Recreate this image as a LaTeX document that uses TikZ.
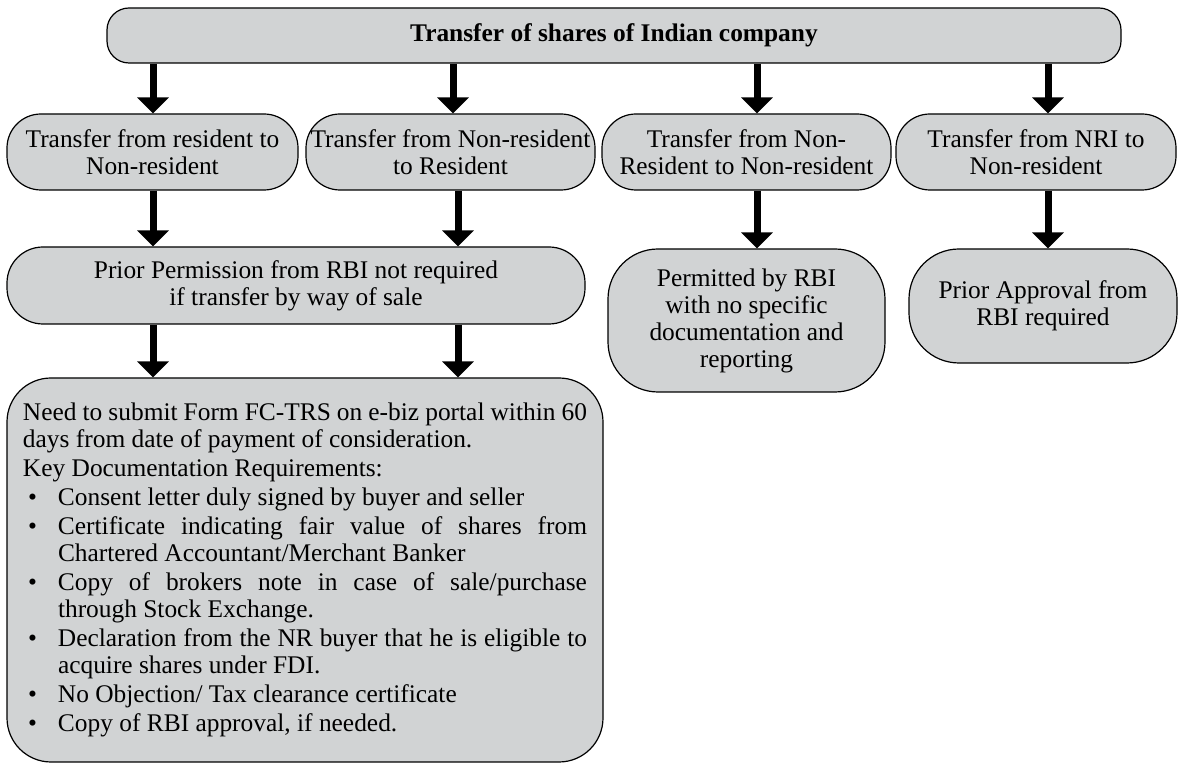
\documentclass[tikz,border=0pt]{standalone}
\usepackage{fontspec}
\setmainfont{Liberation Serif}
\usetikzlibrary{arrows.meta}
\definecolor{boxgray}{RGB}{209,211,212}
\newcommand\bitem[1]{\par\vspace{1pt}\noindent\hangindent=17.5pt\hangafter=1\makebox[17.5pt][l]{\hspace{2.5pt}\textbullet}#1}
\begin{document}
\begin{tikzpicture}[x=0.5pt,y=-0.5pt,
  box/.style={draw=black, line width=0.6pt, fill=boxgray, align=center,
    font=\fontsize{12.7}{13.5}\selectfont, inner sep=0pt},
  arr/.style={line width=3.5pt, black, -{Triangle[width=15.5pt,length=8pt]}},
]
\useasboundingbox (0,0) rectangle (1179,763);
% top
\node[box, rounded corners=11pt, minimum width=507pt, minimum height=27.5pt] (top) at (614,35.5)
  {\textbf{Transfer of shares of Indian company}};
% row 2
\node[box, rounded corners=17pt, minimum width=145.5pt, minimum height=38pt] (B1) at (152.5,152)
  {Transfer from resident to\\Non-resident};
\node[box, rounded corners=17pt, minimum width=144.5pt, minimum height=38pt] (B2) at (450.5,152)
  {Transfer from Non-resident\\to Resident};
\node[box, rounded corners=17pt, minimum width=144.5pt, minimum height=38pt] (B3) at (746.5,152)
  {Transfer from Non-\\Resident to Non-resident};
\node[box, rounded corners=17pt, minimum width=140pt, minimum height=38pt] (B4) at (1036,152)
  {Transfer from NRI to\\Non-resident};
% row 3
\node[box, rounded corners=18pt, minimum width=289pt, minimum height=38.5pt] (P) at (296,285.5)
  {Prior Permission from RBI not required\\if transfer by way of sale};
\node[box, rounded corners=25pt, minimum width=138.5pt, minimum height=71.5pt] (R) at (746.5,320.5)
  {Permitted by RBI\\with no specific\\documentation and\\reporting};
\node[box, rounded corners=25pt, minimum width=134pt, minimum height=57pt] (A) at (1043,306)
  {Prior Approval from\\RBI required};
% bottom
\node[box, rounded corners=22pt, minimum width=298pt, minimum height=192pt,
  text width=282pt, align=justify] (D) at (305,570) {%
Need to submit Form FC-TRS on e-biz portal within 60\linebreak days from date of payment of consideration.\par\vspace{1pt}
\noindent Key Documentation Requirements:
\bitem{Consent letter duly signed by buyer and seller}
\bitem{Certificate indicating fair value of shares from\linebreak Chartered Accountant/Merchant Banker}
\bitem{Copy of brokers note in case of sale/purchase\linebreak through Stock Exchange.}
\bitem{Declaration from the NR buyer that he is eligible to\linebreak acquire shares under FDI.}
\bitem{No Objection/ Tax clearance certificate}
\bitem{Copy of RBI approval, if needed.}\par};
% arrow columns
\coordinate (c1) at (153,0);
\coordinate (c2) at (453,0);
\coordinate (c2b) at (458,0);
\coordinate (c3) at (757,0);
\coordinate (c4) at (1048,0);
% arrows
\draw[arr] (top.south -| c1) -- (B1.north -| c1);
\draw[arr] (top.south -| c2) -- (B2.north -| c2);
\draw[arr] (top.south -| c3) -- (B3.north -| c3);
\draw[arr] (top.south -| c4) -- (B4.north -| c4);
\draw[arr] (B1.south -| c1) -- (P.north -| c1);
\draw[arr] (B2.south -| c2b) -- (P.north -| c2b);
\draw[arr] (B3.south -| c3) -- (R.north -| c3);
\draw[arr] (B4.south -| c4) -- (A.north -| c4);
\draw[arr] (P.south -| c1) -- (D.north -| c1);
\draw[arr] (P.south -| c2b) -- (D.north -| c2b);
\end{tikzpicture}
\end{document}
